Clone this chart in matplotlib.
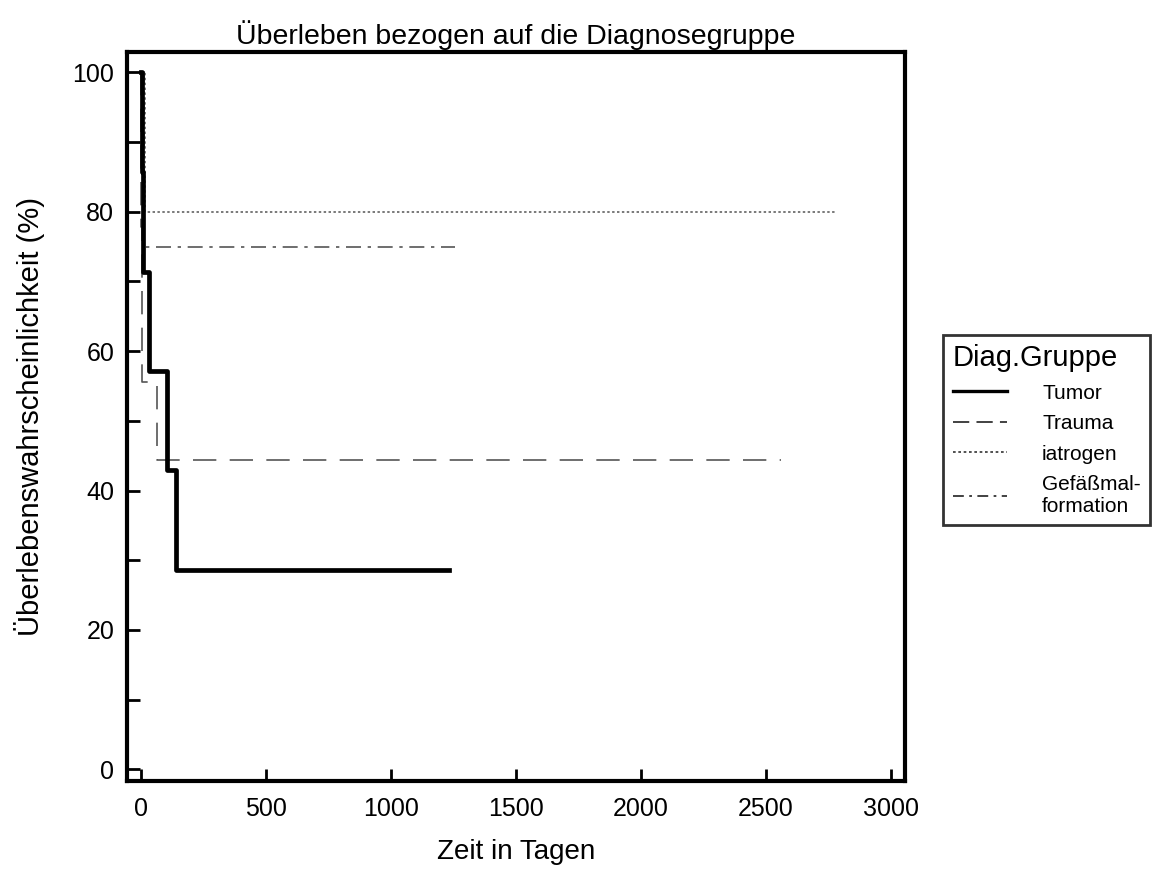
import matplotlib.pyplot as plt
from matplotlib.lines import Line2D
from matplotlib.ticker import MultipleLocator

plt.rcParams['font.family'] = ['Liberation Sans', 'DejaVu Sans']

# Kaplan-Meier steps (days, survival in %)
tumor_t = [0, 5, 10, 32, 104, 140, 1232]
tumor_s = [100, 85.7, 71.4, 57.1, 42.9, 28.6, 28.6]

trauma_t = [0, 1, 2, 3, 4, 64, 2560]
trauma_s = [100, 88.9, 77.8, 66.7, 55.6, 44.4, 44.4]

iatro_t = [0, 15, 2780]
iatro_s = [100, 80, 80]

gefaess_t = [0, 12, 1256]
gefaess_s = [100, 75, 75]

labels = ["Tumor", "Trauma", "iatrogen", "Gefäßmal-\nformation"]

fig = plt.figure(figsize=(11.53, 8.69), dpi=100)
ax = fig.add_axes([0.110, 0.101, 0.675, 0.839])

grey = "#555555"
ax.step(trauma_t, trauma_s, where="post", color=grey, lw=1.2, dashes=(14, 8))
ax.step(iatro_t, iatro_s, where="post", color=grey, lw=1.1, dashes=(1.6, 1.6))
ax.step(gefaess_t, gefaess_s, where="post", color=grey, lw=1.2, dashes=(9, 4, 2, 4))
ax.step(tumor_t, tumor_s, where="post", color="black", lw=3.4)

ax.set_xlim(-56, 3056)
ax.set_ylim(-1.7, 102.9)
ax.set_xticks([0, 500, 1000, 1500, 2000, 2500, 3000])
ax.set_yticks([0, 20, 40, 60, 80, 100])
ax.yaxis.set_minor_locator(MultipleLocator(10))
ax.tick_params(direction="in", length=9, width=2, labelsize=18, pad=9)
ax.tick_params(axis="x", pad=11)
ax.tick_params(axis="y", which="minor", direction="in", length=9, width=2)
for sp in ax.spines.values():
    sp.set_linewidth(3)

ax.set_title("Überleben bezogen auf die Diagnosegruppe", fontsize=20.5, pad=6)
ax.set_xlabel("Zeit in Tagen", fontsize=20, labelpad=13)
ax.set_ylabel("Überlebenswahrscheinlichkeit (%)", fontsize=21, labelpad=20)

handles = [
    Line2D([], [], color="black", lw=2.4),
    Line2D([], [], color="#333333", lw=1.3, dashes=(9, 4)),
    Line2D([], [], color="#333333", lw=1.2, dashes=(1.6, 1.6)),
    Line2D([], [], color="#333333", lw=1.3, dashes=(6, 3, 1.5, 3)),
]
leg = fig.legend(handles, labels, title="Diag.Gruppe", loc="center left",
                 bbox_to_anchor=(0.818, 0.505), fontsize=15,
                 title_fontsize=21, frameon=True, fancybox=False,
                 edgecolor="black", handlelength=2.6, handletextpad=1.7,
                 labelspacing=0.55, borderpad=0.45, borderaxespad=0)
leg.get_frame().set_linewidth(2)
leg._legend_box.align = "left"

fig.savefig("out.png", dpi=100)
